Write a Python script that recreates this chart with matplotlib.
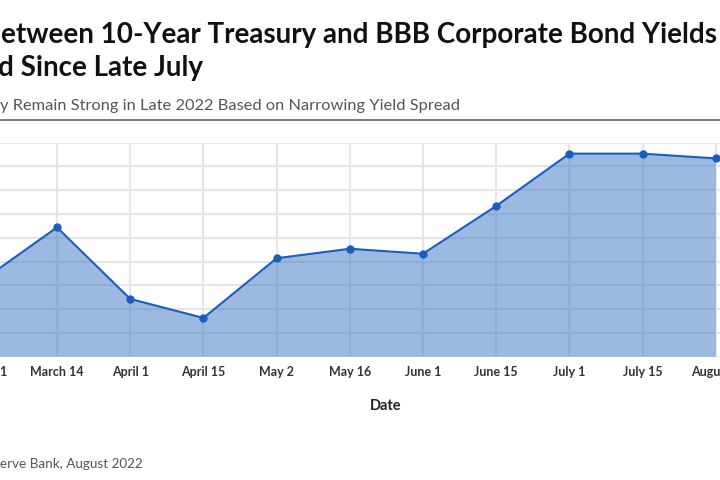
import matplotlib
matplotlib.use("Agg")
import matplotlib.pyplot as plt

# spread readings (gridline units)
dates = ["March 1", "March 14", "April 1", "April 15", "May 2", "May 16",
         "June 1", "June 15", "July 1", "July 15", "August 1"]
spread = [3.25, 5.44, 2.43, 1.63, 4.14, 4.54, 4.33, 6.34, 8.54, 8.54, 8.34]

title_hidden = ["Spread B", "Has Narrowe"]
title_shown = ["etween 10-Year Treasury and BBB Corporate Bond Yields", "d Since Late July"]
subtitle_hidden = "Corporate Profits Ma"
subtitle_shown = "y Remain Strong in Late 2022 Based on Narrowing Yield Spread"
source_hidden = "Source: Federal Res"
source_shown = "erve Bank, August 2022"

FONT = "Lato"
W, H = 720, 480
fig = plt.figure(figsize=(W / 100, H / 100), dpi=100)

# axes run past the canvas on both sides, like the cropped original
left_px, right_px = -60, 780
ax = fig.add_axes([left_px / W, 123.3 / H, (right_px - left_px) / W, 214 / H])
step = 73.2
x0 = -16.2
xs = list(range(len(dates)))
ax.fill_between(xs, spread, 0, color="#3a75c4", alpha=0.5, lw=0, zorder=2)
ax.plot(xs, spread, color="#1a5fbf", lw=1.5, marker="o", ms=5, zorder=3)
ax.set_xlim((left_px - x0) / step, (right_px - x0) / step)
ax.set_ylim(0, 9)
ax.set_xticks(xs)
ax.set_xticklabels(dates, fontsize=9, fontweight="bold", color="#333333", family=FONT)
ax.set_yticks(range(10))
ax.set_yticklabels([])
ax.tick_params(length=0, pad=7)
ax.grid(True, color="#e6e6e6", lw=1.5, zorder=1)
ax.set_axisbelow(True)
for s in ax.spines.values():
    s.set_visible(False)

fig.text(386 / W, 1 - 410 / H, "Date", ha="center", va="baseline",
         fontsize=10.5, fontweight="bold", family=FONT, color="#222222")


def split_text(x, y, hidden, shown, **kw):
    fig.text(x, y, hidden, ha="right", va="baseline", **kw)
    fig.text(x, y, shown, ha="left", va="baseline", **kw)


tkw = dict(fontsize=20, fontweight="bold", family=FONT, color="#111111")
split_text(1 / W, 1 - 43 / H, title_hidden[0], title_shown[0], **tkw)
split_text(-2 / W, 1 - 76 / H, title_hidden[1], title_shown[1], **tkw)
split_text(0, 1 - 110 / H, subtitle_hidden, subtitle_shown,
           fontsize=11.8, family=FONT, color="#555555")
split_text(0, 1 - 468 / H, source_hidden, source_shown,
           fontsize=9.7, family=FONT, color="#555555")

fig.add_artist(plt.Line2D([0, 1], [1 - 120 / H, 1 - 120 / H], color="#666666", lw=1.2))

fig.savefig("out.png", dpi=100)
